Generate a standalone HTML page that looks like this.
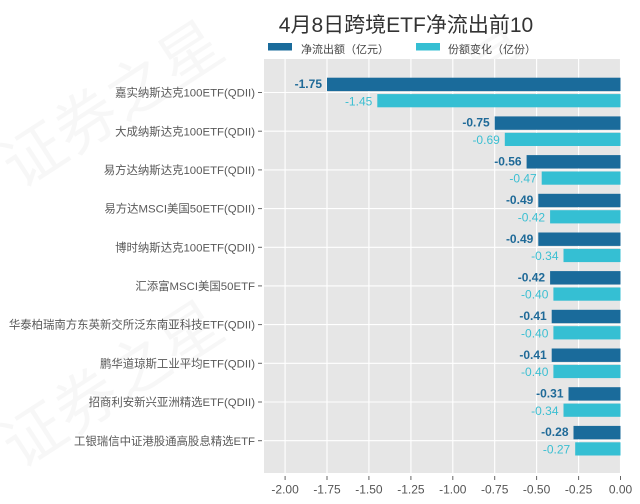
<!DOCTYPE html>
<html><head><meta charset="utf-8"><style>
html,body{margin:0;padding:0;background:#fff;}
svg{display:block;}
text{font-family:"Liberation Sans","Noto Sans CJK SC",sans-serif;}
</style></head><body>
<svg width="640" height="504" viewBox="0 0 640 504" xmlns="http://www.w3.org/2000/svg">
<rect x="0" y="0" width="640" height="504" fill="#ffffff"/>
<!-- watermark -->
<g fill="#000" fill-opacity="0.03" font-size="62" font-family="Liberation Sans, Noto Sans CJK SC, sans-serif">
<text transform="translate(20,190) rotate(-33)">证券之星</text>
<text transform="translate(330,200) rotate(-33)">证券之星</text>
<text transform="translate(20,470) rotate(-33)">证券之星</text>
<text transform="translate(360,470) rotate(-33)">证券之星</text>
</g>
<!-- title -->
<text x="406" y="32" font-size="21" fill="#333" text-anchor="middle">4月8日跨境ETF净流出前10</text>
<!-- legend -->
<rect x="268" y="43" width="24" height="7.5" fill="#1a6b9b"/>
<text x="301" y="53" font-size="11" fill="#444">净流出额（亿元）</text>
<rect x="416" y="43" width="24" height="7.5" fill="#35bfd3"/>
<text x="448" y="53" font-size="11" fill="#444">份额变化（亿份）</text>
<!-- plot bg -->
<rect x="264" y="59" width="357" height="414" fill="#e6e6e6"/>
<g stroke="#ffffff" stroke-width="1.1">
<line x1="285.1" y1="59" x2="285.1" y2="473"/>
<line x1="327.0" y1="59" x2="327.0" y2="473"/>
<line x1="368.9" y1="59" x2="368.9" y2="473"/>
<line x1="410.9" y1="59" x2="410.9" y2="473"/>
<line x1="452.8" y1="59" x2="452.8" y2="473"/>
<line x1="494.7" y1="59" x2="494.7" y2="473"/>
<line x1="536.6" y1="59" x2="536.6" y2="473"/>
<line x1="578.6" y1="59" x2="578.6" y2="473"/>
<line x1="620.5" y1="59" x2="620.5" y2="473"/>
<line x1="264" y1="92.5" x2="621" y2="92.5"/>
<line x1="264" y1="131.2" x2="621" y2="131.2"/>
<line x1="264" y1="169.9" x2="621" y2="169.9"/>
<line x1="264" y1="208.6" x2="621" y2="208.6"/>
<line x1="264" y1="247.3" x2="621" y2="247.3"/>
<line x1="264" y1="285.9" x2="621" y2="285.9"/>
<line x1="264" y1="324.6" x2="621" y2="324.6"/>
<line x1="264" y1="363.3" x2="621" y2="363.3"/>
<line x1="264" y1="402.0" x2="621" y2="402.0"/>
<line x1="264" y1="440.7" x2="621" y2="440.7"/>
</g>
<!-- dark bars -->
<g fill="#1a6b9b">
<rect x="327.0" y="77.7" width="293.5" height="13.4"/>
<rect x="494.7" y="116.4" width="125.8" height="13.4"/>
<rect x="526.6" y="155.1" width="93.9" height="13.4"/>
<rect x="538.3" y="193.8" width="82.2" height="13.4"/>
<rect x="538.3" y="232.5" width="82.2" height="13.4"/>
<rect x="550.1" y="271.1" width="70.4" height="13.4"/>
<rect x="551.7" y="309.8" width="68.8" height="13.4"/>
<rect x="551.7" y="348.5" width="68.8" height="13.4"/>
<rect x="568.5" y="387.2" width="52.0" height="13.4"/>
<rect x="573.5" y="425.9" width="47.0" height="13.4"/>
</g>
<!-- light bars -->
<g fill="#35bfd3">
<rect x="377.3" y="94.1" width="243.2" height="13.2"/>
<rect x="504.8" y="132.8" width="115.7" height="13.2"/>
<rect x="541.7" y="171.5" width="78.8" height="13.2"/>
<rect x="550.1" y="210.2" width="70.4" height="13.2"/>
<rect x="563.5" y="248.9" width="57.0" height="13.2"/>
<rect x="553.4" y="287.5" width="67.1" height="13.2"/>
<rect x="553.4" y="326.2" width="67.1" height="13.2"/>
<rect x="553.4" y="364.9" width="67.1" height="13.2"/>
<rect x="563.5" y="403.6" width="57.0" height="13.2"/>
<rect x="575.2" y="442.3" width="45.3" height="13.2"/>
</g>
<!-- dark value labels -->
<g fill="#1f6a98" font-size="12" font-weight="bold" text-anchor="end">
<text x="322.0" y="88.0">-1.75</text>
<text x="489.7" y="126.7">-0.75</text>
<text x="521.6" y="165.4">-0.56</text>
<text x="533.3" y="204.1">-0.49</text>
<text x="533.3" y="242.8">-0.49</text>
<text x="545.1" y="281.4">-0.42</text>
<text x="546.7" y="320.1">-0.41</text>
<text x="546.7" y="358.8">-0.41</text>
<text x="563.5" y="397.5">-0.31</text>
<text x="568.5" y="436.2">-0.28</text>
</g>
<!-- light value labels -->
<g fill="#3bbfd2" font-size="12" font-weight="500" text-anchor="end">
<text x="372.3" y="105.3">-1.45</text>
<text x="499.8" y="144.0">-0.69</text>
<text x="536.7" y="182.7">-0.47</text>
<text x="545.1" y="221.4">-0.42</text>
<text x="558.5" y="260.1">-0.34</text>
<text x="548.4" y="298.7">-0.40</text>
<text x="548.4" y="337.4">-0.40</text>
<text x="548.4" y="376.1">-0.40</text>
<text x="558.5" y="414.8">-0.34</text>
<text x="570.2" y="453.5">-0.27</text>
</g>
<!-- y labels -->
<g fill="#595959" font-size="11.4" text-anchor="end">
<text x="255" y="96.6">嘉实纳斯达克100ETF(QDII)</text>
<text x="255" y="135.3">大成纳斯达克100ETF(QDII)</text>
<text x="255" y="174.0">易方达纳斯达克100ETF(QDII)</text>
<text x="255" y="212.7">易方达MSCI美国50ETF(QDII)</text>
<text x="255" y="251.4">博时纳斯达克100ETF(QDII)</text>
<text x="255" y="290.0">汇添富MSCI美国50ETF</text>
<text x="255" y="328.7">华泰柏瑞南方东英新交所泛东南亚科技ETF(QDII)</text>
<text x="255" y="367.4">鹏华道琼斯工业平均ETF(QDII)</text>
<text x="255" y="406.1">招商利安新兴亚洲精选ETF(QDII)</text>
<text x="255" y="444.8">工银瑞信中证港股通高股息精选ETF</text>
</g>
<g stroke="#666" stroke-width="1">
<line x1="258" y1="92.5" x2="262" y2="92.5"/>
<line x1="258" y1="131.2" x2="262" y2="131.2"/>
<line x1="258" y1="169.9" x2="262" y2="169.9"/>
<line x1="258" y1="208.6" x2="262" y2="208.6"/>
<line x1="258" y1="247.3" x2="262" y2="247.3"/>
<line x1="258" y1="285.9" x2="262" y2="285.9"/>
<line x1="258" y1="324.6" x2="262" y2="324.6"/>
<line x1="258" y1="363.3" x2="262" y2="363.3"/>
<line x1="258" y1="402.0" x2="262" y2="402.0"/>
<line x1="258" y1="440.7" x2="262" y2="440.7"/>
</g>
<!-- x ticks -->
<g stroke="#666" stroke-width="1">
<line x1="285.1" y1="476" x2="285.1" y2="480"/>
<line x1="327.0" y1="476" x2="327.0" y2="480"/>
<line x1="368.9" y1="476" x2="368.9" y2="480"/>
<line x1="410.9" y1="476" x2="410.9" y2="480"/>
<line x1="452.8" y1="476" x2="452.8" y2="480"/>
<line x1="494.7" y1="476" x2="494.7" y2="480"/>
<line x1="536.6" y1="476" x2="536.6" y2="480"/>
<line x1="578.6" y1="476" x2="578.6" y2="480"/>
<line x1="620.5" y1="476" x2="620.5" y2="480"/>
</g>
<g fill="#555" font-size="12" text-anchor="middle">
<text x="285.1" y="493.5">-2.00</text>
<text x="327.0" y="493.5">-1.75</text>
<text x="368.9" y="493.5">-1.50</text>
<text x="410.9" y="493.5">-1.25</text>
<text x="452.8" y="493.5">-1.00</text>
<text x="494.7" y="493.5">-0.75</text>
<text x="536.6" y="493.5">-0.50</text>
<text x="578.6" y="493.5">-0.25</text>
<text x="620.5" y="493.5">0.00</text>
</g>
</svg>
</body></html>
